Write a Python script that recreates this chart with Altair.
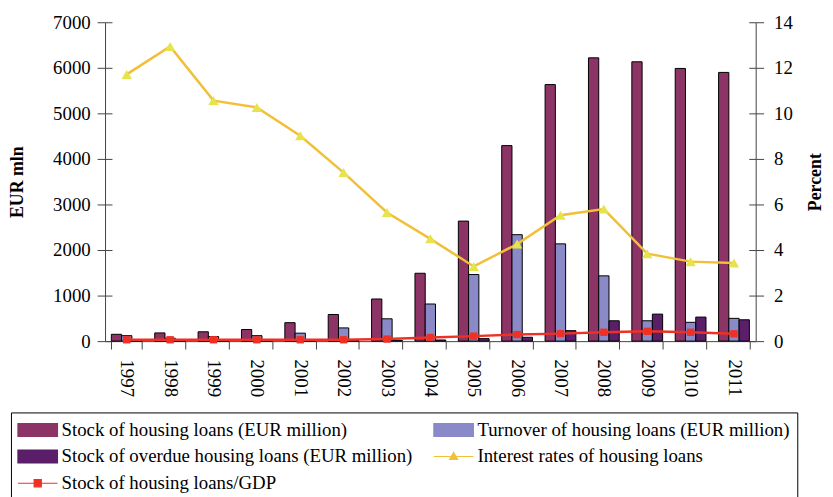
import altair as alt
import pandas as pd

# ---------------- data ----------------
years = [str(y) for y in range(1997, 2012)]
stock = [150, 180, 205, 255, 405, 585, 925, 1490, 2635, 4292, 5632, 6219, 6132, 5986, 5899]
turnover = [120, 65, 100, 120, 175, 290, 490, 815, 1462, 2337, 2135, 1433, 447, 413, 500]
overdue = [5, 5, 5, 5, 10, 10, 15, 25, 55, 85, 230, 447, 593, 528, 469]
interest = [11.71, 12.94, 10.56, 10.26, 9.02, 7.40, 5.65, 4.49, 3.28, 4.26, 5.53, 5.80, 3.84, 3.49, 3.43]
gdp_ratio = [0.06, 0.06, 0.06, 0.06, 0.06, 0.06, 0.09, 0.16, 0.22, 0.29, 0.33, 0.39, 0.43, 0.39, 0.32]

left_ticks = list(range(0, 7001, 1000))
right_ticks = list(range(0, 15, 2))

series_names = [
    "Stock of housing loans (EUR million)",
    "Turnover of housing loans (EUR million)",
    "Stock of overdue housing loans (EUR million)",
    "Interest rates of housing loans",
    "Stock of housing loans/GDP",
]
series_colors = ["#8C3466", "#8A8AC8", "#5B1F6A", "#F2BF38", "#EE3124"]
triangle_fill = "#E6E44A"
legend_fills = series_colors[:3] + [triangle_fill, series_colors[4]]
legend_shapes = [
    "M-2.1,-0.68H2.1V0.68H-2.1Z",
    "M-2.1,-0.68H2.1V0.68H-2.1Z",
    "M-2.1,-0.68H2.1V0.68H-2.1Z",
    "M-2.1,0H2.1M0,-0.42L0.42,0.3H-0.42Z",
    "M-2.1,0H2.1M-0.38,-0.38H0.38V0.38H-0.38Z",
]

bar_df = pd.DataFrame({
    "year": years * 3,
    "series": [series_names[0]] * 15 + [series_names[1]] * 15 + [series_names[2]] * 15,
    "value": stock + turnover + overdue,
})
line_df = pd.DataFrame({
    "year": years * 2,
    "series": [series_names[3]] * 15 + [series_names[4]] * 15,
    "value": interest + gdp_ratio,
})
legend_df = pd.DataFrame({"series": series_names})

font = "Liberation Serif"
axis_grey = "#444444"


def is_series(i):
    return f"datum.value === '{series_names[i]}'"


legend = alt.Legend(
    title=None,
    orient="none",
    legendX=-95,
    legendY=394,
    direction="horizontal",
    columns=2,
    gridAlign="all",
    columnPadding=18,
    rowPadding=6,
    padding=7,
    strokeColor="#000000",
    fillColor="#ffffff",
    labelFont=font,
    labelFontSize=19,
    labelColor="#000000",
    labelLimit=600,
    symbolSize=361,
    symbolOffset=9.5,
    labelOffset=13.5,
)
# custom per-entry symbol styling (Vega-Lite accepts legend.encode, hidden from schema)
legend._kwds["encode"] = {
    "symbols": {
        "update": {
            "fill": {
                "condition": [{"test": is_series(i), "value": legend_fills[i]} for i in range(5)],
                "value": "#000000",
            },
            "stroke": {
                "condition": [
                    {"test": is_series(3), "value": series_colors[3]},
                    {"test": is_series(4), "value": series_colors[4]},
                ],
                "value": "#000000",
            },
            "strokeWidth": {
                "condition": {"test": is_series(3) + " || " + is_series(4), "value": 2.5},
                "value": 1.2,
            },
            "opacity": {"value": 1},
        }
    }
}

color_scale = alt.Scale(domain=series_names, range=series_colors)
x_enc = alt.X(
    "year:N",
    sort=years,
    scale=alt.Scale(paddingInner=0.29, paddingOuter=0.145),
    axis=alt.Axis(title=None, labelAngle=90, tickBand="extent", tickSize=8, labelPadding=10),
)

bars = alt.Chart(bar_df).mark_bar(stroke="#000000", strokeWidth=1).encode(
    x=x_enc,
    xOffset=alt.XOffset("series:N", sort=series_names[:3],
                        scale=alt.Scale(domain=series_names[:3], paddingInner=0, paddingOuter=0)),
    y=alt.Y("value:Q", scale=alt.Scale(domain=[0, 7000], nice=False),
            axis=alt.Axis(orient="left", values=left_ticks, format="d",
                          title="EUR mln", titleFontWeight="bold", titleFontSize=18,
                          titlePadding=26, tickSize=8, labelPadding=7)),
    color=alt.Color("series:N", scale=color_scale, legend=legend),
)

# inner half of the crossing tick marks on the left axis
left_inner = alt.Chart(bar_df).mark_point(opacity=0).encode(
    y=alt.Y("value:Q", scale=alt.Scale(domain=[0, 7000], nice=False),
            axis=alt.Axis(orient="left", values=left_ticks, offset=-7, tickSize=7,
                          labels=False, domain=False, title=None)),
)

y_right = alt.Y("value:Q", scale=alt.Scale(domain=[0, 14], nice=False),
                axis=alt.Axis(orient="right", values=right_ticks, format="d",
                              title="Percent", titleFontWeight="bold", titleFontSize=18,
                              titleAngle=270, titlePadding=32, tickSize=8, labelPadding=10))

lines = alt.Chart(line_df).mark_line(strokeWidth=2.5).encode(
    x=alt.X("year:N", sort=years),
    y=y_right,
    color=alt.Color("series:N", scale=color_scale, legend=legend),
)
triangles = alt.Chart(line_df).transform_filter(
    alt.datum.series == series_names[3]
).mark_point(shape="triangle-up", filled=True, size=110, color=triangle_fill, opacity=1).encode(
    x=alt.X("year:N", sort=years), y=alt.Y("value:Q"),
)
squares = alt.Chart(line_df).transform_filter(
    alt.datum.series == series_names[4]
).mark_square(size=55, color=series_colors[4], opacity=1).encode(
    x=alt.X("year:N", sort=years), y=alt.Y("value:Q"),
)
legend_layer = alt.Chart(legend_df).transform_filter("false").mark_point(filled=True).encode(
    color=alt.Color("series:N", scale=color_scale, legend=legend),
    shape=alt.Shape("series:N", scale=alt.Scale(domain=series_names, range=legend_shapes), legend=legend),
)

# inner half of the crossing tick marks on the right axis
right_inner = alt.Chart(line_df).mark_point(opacity=0).encode(
    y=alt.Y("value:Q", scale=alt.Scale(domain=[0, 14], nice=False),
            axis=alt.Axis(orient="right", values=right_ticks, offset=-7, tickSize=7,
                          labels=False, domain=False, title=None)),
)

chart = alt.layer(
    bars, left_inner, alt.layer(lines, triangles, squares, legend_layer), right_inner
).resolve_scale(y="independent").properties(
    width=657,
    height=322,
    autosize=alt.AutoSizeParams(type="none"),
    padding={"left": 98, "top": 12, "right": 70, "bottom": 155},
).configure_axis(
    labelFont=font, titleFont=font, labelFontSize=19, labelColor="#000000",
    titleColor="#000000", domainColor=axis_grey, tickColor=axis_grey, grid=False,
).configure_legend(
    labelFont=font,
).configure_view(stroke=None)


class _LayerChartNoValidate(alt.LayerChart):
    def to_dict(self, *args, **kwargs):
        kwargs["validate"] = False
        return super().to_dict(*args, **kwargs)


object.__setattr__(chart, "__class__", _LayerChartNoValidate)

chart.save("out.html", embed_options={"renderer": "svg", "actions": False})
